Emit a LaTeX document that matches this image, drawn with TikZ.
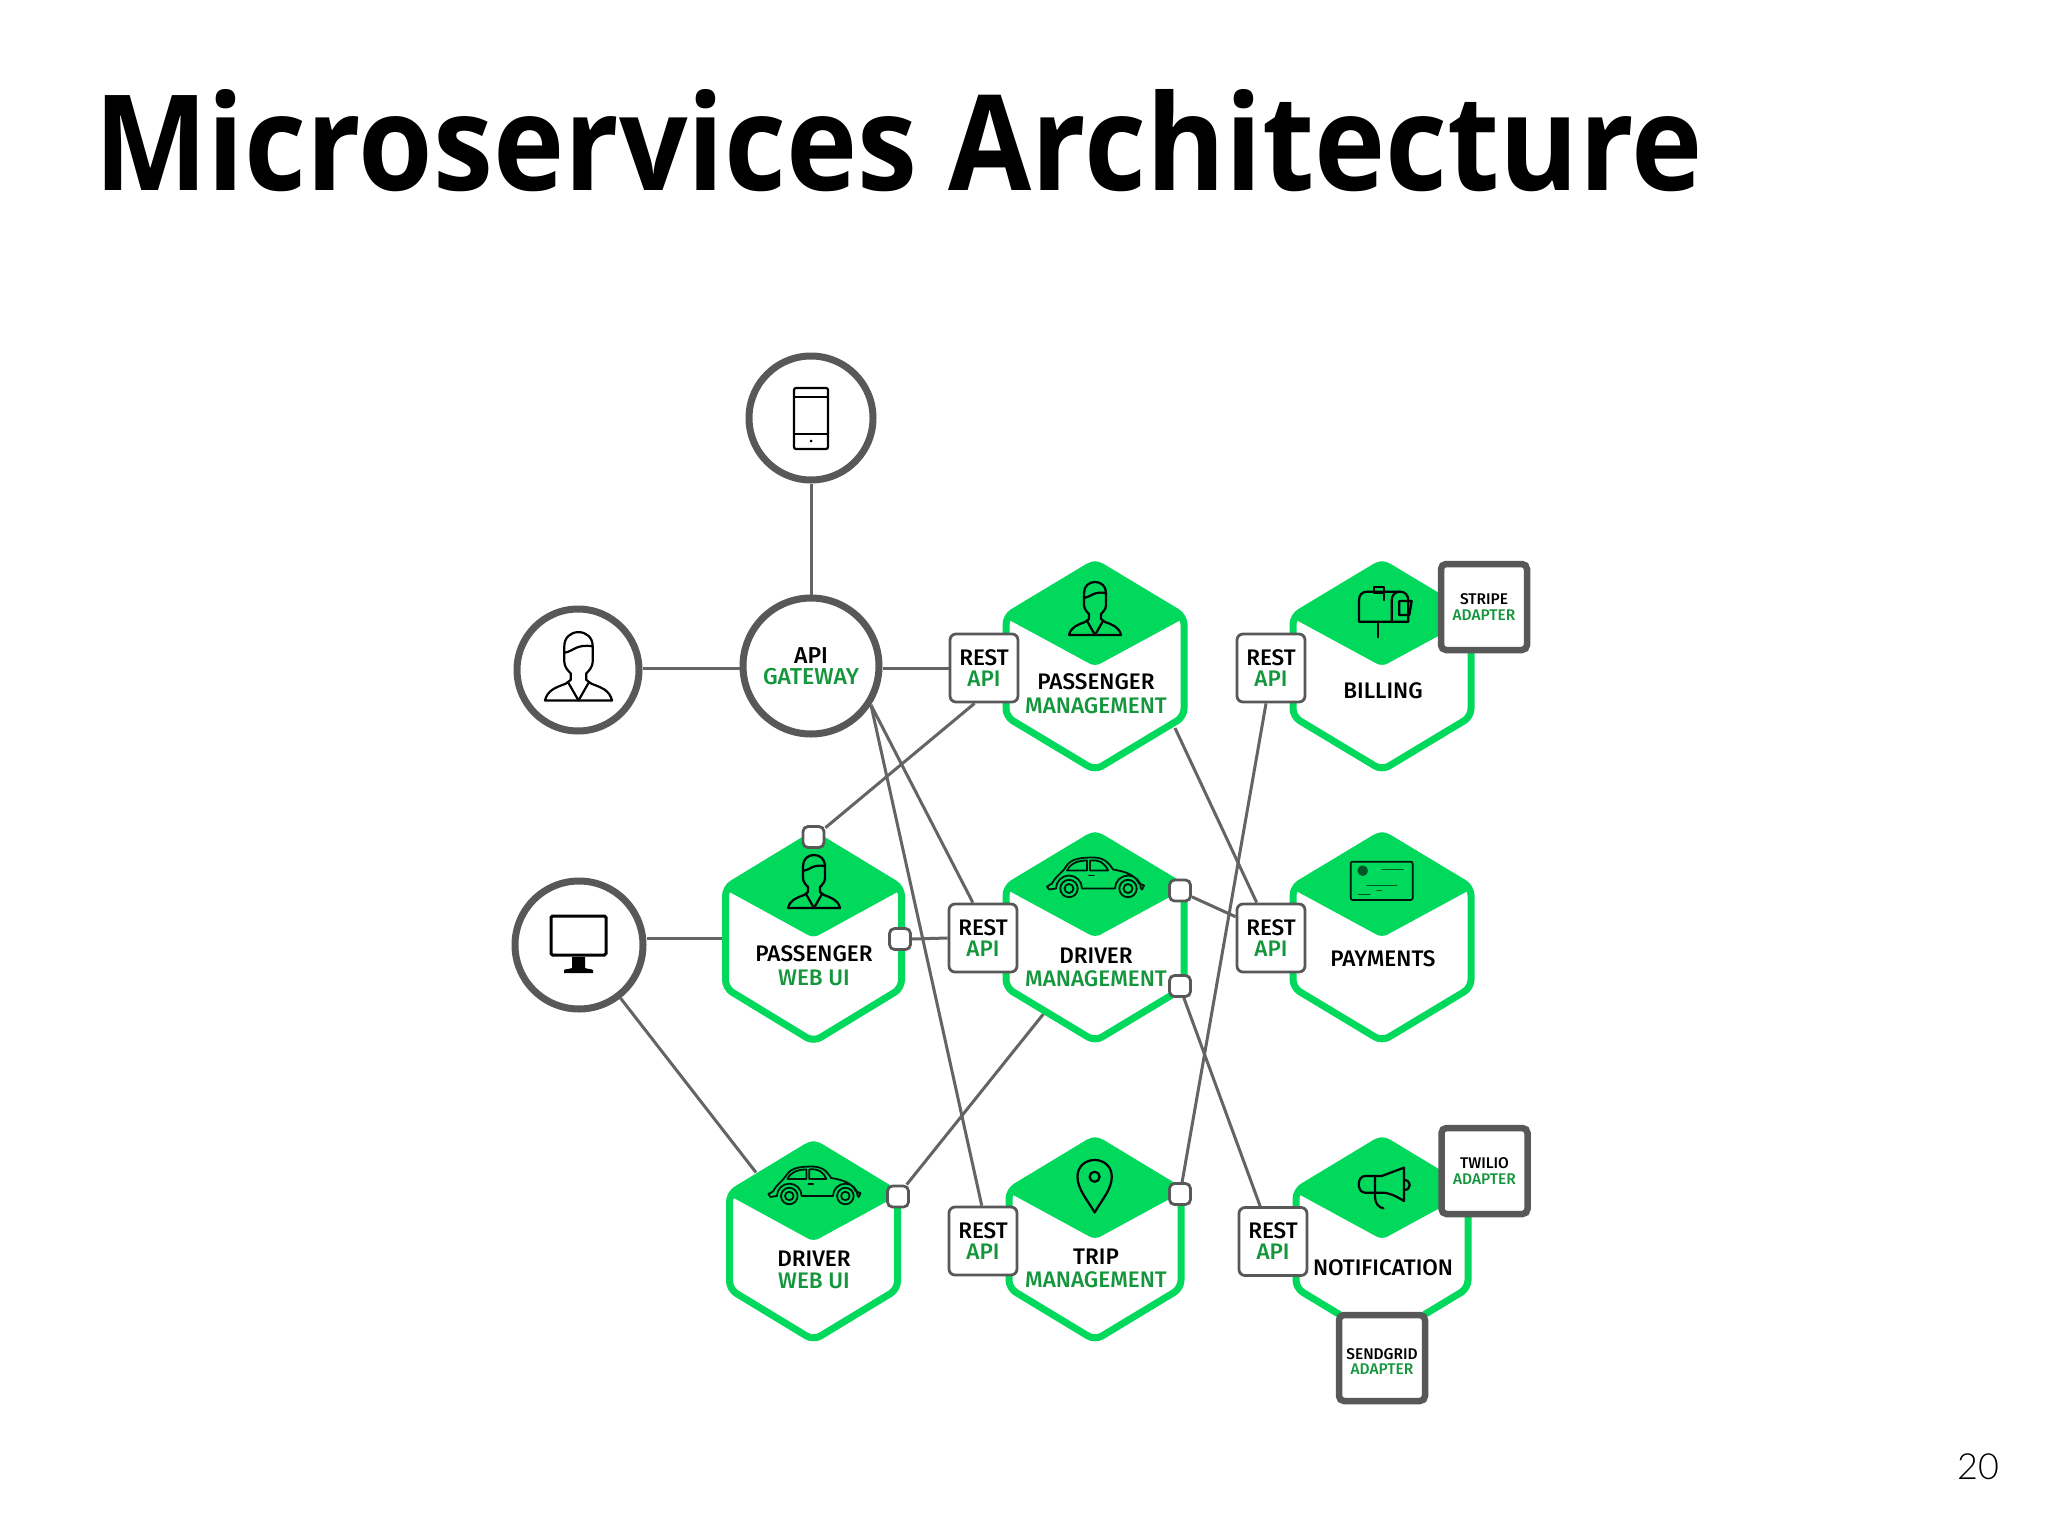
\documentclass[tikz,border=0pt]{standalone}
\usepackage{fontspec}
\usetikzlibrary{calc}
\newfontfamily\lblfont{Fira Sans Medium}
\newfontfamily\ttlfont[BoldFont={Open Sans Bold},BoldFeatures={FakeStretch=0.906}]{Open Sans}
\newfontfamily\numfont{Lato Light}
\setmainfont{Liberation Sans}
\definecolor{hexgreen}{RGB}{0,217,92}
\definecolor{txtgreen}{RGB}{20,150,60}
\definecolor{strk}{RGB}{88,88,88}
\definecolor{conn}{RGB}{100,100,100}
\pgfdeclarelayer{back}\pgfdeclarelayer{bg}
\pgfsetlayers{back,bg,main}
\tikzset{
  lbl/.style={font=\lblfont\fontsize{22.5}{22}\selectfont,inner sep=0pt,text=black},
  glbl/.style={lbl,text=txtgreen},
  ringnode/.style={circle,draw=strk,line width=7pt,fill=white,inner sep=0pt},
  gatenode/.style={ringnode,align=center,font=\lblfont\fontsize{23}{21}\selectfont},
  restnode/.style={rectangle,draw=strk,line width=2.8pt,fill=white,rounded corners=6pt,minimum width=68pt,minimum height=68pt,inner sep=0pt,align=center,font=\lblfont\fontsize{22.5}{21}\selectfont},
  adapter/.style={rectangle,draw=strk,line width=6.5pt,fill=white,rounded corners=5pt,minimum width=86pt,minimum height=86pt,inner sep=0pt,align=center,font=\lblfont\fontsize{15.5}{15.5}\selectfont},
  port/.style={rectangle,draw=strk,line width=2.8pt,fill=white,rounded corners=5pt,minimum width=21pt,minimum height=21pt,inner sep=0pt},
  hexbox/.style={rectangle,inner sep=0pt},
  hexline/.style={draw=hexgreen,fill=white,line width=7pt,rounded corners=8pt},
  iconline/.style={draw=black,line width=2.2pt,line join=round,line cap=round},
  thinicon/.style={draw=black!90!hexgreen,line width=1.8pt,line join=round,line cap=round},
  connector/.style={draw=conn,line width=3pt}
}
\newcommand{\hexa}[5]{%
  \node[hexbox,minimum width=#4*2pt,minimum height=#5*2pt] (#1) at (#2,#3) {};
  \pgfmathsetmacro\ix{#4-3.5}\pgfmathsetmacro\iy{#5-0.8}\pgfmathsetmacro\cy{0.48*#5}\pgfmathsetmacro\ty{#5+2.5}%
  \begin{scope}[shift={(#2,#3)}]
    \path[hexline] (0,-\iy) -- (\ix,-\cy) -- (\ix,\cy) -- (0,\iy) -- (-\ix,\cy) -- (-\ix,-\cy) -- cycle;
    \fill[hexgreen,rounded corners=6pt] (0,-\ty) -- (#4,-\cy) -- (0,0) -- (-#4,-\cy) -- cycle;
  \end{scope}}
\newcommand{\personicon}[3]{%
  \begin{scope}[shift={(#1,#2)},scale=#3]
    \draw[iconline] (-26,0) .. controls (-24,-8) and (-18,-10) .. (-10,-13) -- (-6,-16) -- (-6,-21) .. controls (-8,-23) and (-11,-26) .. (-11,-30) -- (-11,-42) .. controls (-11,-49) and (-6,-53) .. (0,-53) .. controls (6,-53) and (11,-49) .. (11,-42) -- (11,-30) .. controls (11,-26) and (8,-23) .. (6,-21) -- (6,-16) -- (10,-13) .. controls (18,-10) and (24,-8) .. (26,0) -- cycle;
    \draw[iconline] (-11,-37) .. controls (-4,-38) and (-2,-44) .. (11,-42);
    \draw[iconline] (-8,-14) -- (0,0) -- (8,-14);
  \end{scope}}
\newcommand{\caricon}[3]{%
  \begin{scope}[shift={(#1,#2)},scale=#3]
    \draw[thinicon] (-39,0) arc (180:360:13) -- (20,0) arc (180:360:13) -- (47,1) -- (49,-3) -- (44,-5) .. controls (40,-14) and (30,-17) .. (18,-19) .. controls (13,-27) and (8,-31) .. (-2,-31) .. controls (-14,-31) and (-24,-30) .. (-29,-22) .. controls (-33,-15) and (-40,-12) .. (-43,-5) -- (-48,-2) -- (-46,1) -- (-39,0);
    \draw[thinicon] (-26,0) circle (8.7) (-26,0) circle (4.5) (33,0) circle (8.7) (33,0) circle (4.5);
    \draw[thinicon] (-28,-18) .. controls (-24,-26) and (-16,-28) .. (-8,-28) -- (-8,-18) -- cycle;
    \draw[thinicon] (-5,-28) .. controls (5,-29) and (10,-25) .. (13,-18) -- (-5,-18) -- cycle;
    \draw[thinicon] (-6,-13) -- (-1,-13);
  \end{scope}}
\begin{document}
\begin{tikzpicture}[x=1pt,y=-1pt]
\begin{pgfonlayer}{back}
  \path[use as bounding box,fill=white] (0,0) rectangle (2048,1536);
\end{pgfonlayer}

\node[anchor=base west,inner sep=0pt,font=\ttlfont\bfseries\fontsize{133}{133}\selectfont] (title) at (94,190) {Microservices Architecture};
\node[anchor=base,inner sep=0pt,font=\numfont\fontsize{36}{36}\selectfont] (pageno) at (1978,1479) {20};

% hexagons
\hexa{pm}{1095}{666.5}{92.5}{104.5}
\hexa{bill}{1382}{666.5}{92.5}{104.5}
\hexa{pwu}{813.5}{938}{91.5}{104.5}
\hexa{dm}{1095}{937.5}{92.5}{104.5}
\hexa{pay}{1382}{937.5}{92.5}{104.5}
\hexa{dwu}{813.5}{1241.5}{87.5}{99.5}
\hexa{trip}{1095}{1239.5}{89.5}{101.5}
\hexa{notif}{1382}{1239.5}{89.5}{101.5}

% hexagon labels
\node[lbl] (pmA) at (1096,682) {PASSENGER};
\node[glbl] (pmB) at (1096,706) {MANAGEMENT};
\node[lbl] (billA) at (1383,691) {BILLING};
\node[lbl] (pwuA) at (814,954) {PASSENGER};
\node[glbl] (pwuB) at (814,977.5) {WEB UI};
\node[lbl] (dmA) at (1096,956) {DRIVER};
\node[glbl] (dmB) at (1096,979) {MANAGEMENT};
\node[lbl] (payA) at (1383,959) {PAYMENTS};
\node[lbl] (dwuA) at (814,1259) {DRIVER};
\node[glbl] (dwuB) at (814,1281) {WEB UI};
\node[lbl] (tripA) at (1096,1257) {TRIP};
\node[glbl] (tripB) at (1096,1280) {MANAGEMENT};
\node[lbl] (notifA) at (1383,1268) {NOTIFICATION};

% icons on hexagons
\personicon{1095}{635}{1}
\personicon{814}{908}{1}
\caricon{1095}{888.5}{1}
\caricon{814}{1196}{0.95}
\begin{scope}[shift={(1340,575)},scale=1/3]
  \draw[iconline] (57,140) -- (57,75) .. controls (57,58) and (68,50) .. (82,50) -- (180,50) .. controls (195,50) and (205,60) .. (205,78) -- (205,140) -- cycle;
  \draw[iconline] (155,140) -- (155,78) .. controls (155,60) and (165,50) .. (180,50);
  \draw[iconline] (178,78) -- (215,78) -- (208,120) -- (178,120) -- cycle;
  \draw[iconline] (103,35) rectangle (133,55) (133,55) -- (133,75) (115,140) -- (115,187);
\end{scope}
\begin{scope}[shift={(1340,850)},scale=1/3]
  \draw[thinicon,rounded corners=2pt] (32,35) rectangle (218,150);
  \fill[black!60!hexgreen] (68,62) circle (16);
  \draw[thinicon,line width=0.7pt,draw=black!60!hexgreen] (125,57) -- (190,57) (80,105) -- (170,105) (110,120) -- (125,120) (55,133) -- (90,133);
\end{scope}
\begin{scope}[shift={(700,800)},scale=1/2.8]
  \draw[iconline] (1105,1155) .. controls (1085,1120) and (1057,1090) .. (1057,1055) .. controls (1057,1025) and (1080,1008) .. (1105,1008) .. controls (1130,1008) and (1153,1025) .. (1153,1055) .. controls (1153,1090) and (1125,1120) .. (1105,1155) -- cycle;
  \draw[iconline] (1105,1055) circle (14);
\end{scope}
\begin{scope}[shift={(1200,1100)},scale=1/3]
  \draw[iconline] (495,228) -- (545,228) -- (612,203) -- (612,303) .. controls (590,290) and (570,278) .. (545,278) -- (495,278) .. controls (470,278) and (470,228) .. (495,228) -- cycle;
  \draw[iconline] (612,240) .. controls (635,240) and (635,270) .. (612,270);
  \draw[iconline] (525,228) -- (525,290) .. controls (525,310) and (535,322) .. (550,325);
\end{scope}

% ports
\node[port] (ptop) at (813.5,837) {};
\node[port] (pside) at (900,939) {};
\node[port] (dmup) at (1180,890.5) {};
\node[port] (dmlow) at (1180,986) {};
\node[port] (dwup) at (898,1196.5) {};
\node[port] (tripp) at (1180,1194) {};

% REST API boxes
\node[restnode] (r1) at (984,668) {REST\\\textcolor{txtgreen}{API}};
\node[restnode] (rbill) at (1271,668) {REST\\\textcolor{txtgreen}{API}};
\node[restnode] (r2) at (983,938) {REST\\\textcolor{txtgreen}{API}};
\node[restnode] (rpay) at (1271,938) {REST\\\textcolor{txtgreen}{API}};
\node[restnode] (r3) at (983,1241) {REST\\\textcolor{txtgreen}{API}};
\node[restnode] (r4) at (1273,1241.5) {REST\\\textcolor{txtgreen}{API}};

% adapters
\node[adapter] (stripe) at (1484,607) {STRIPE\\\textcolor{txtgreen}{ADAPTER}};
\node[adapter] (twilio) at (1484.5,1171) {TWILIO\\\textcolor{txtgreen}{ADAPTER}};
\node[adapter] (sendgrid) at (1382,1358) {\rule{0pt}{18pt}SENDGRID\\\textcolor{txtgreen}{ADAPTER}};

% round nodes
\node[ringnode,minimum size=124pt] (phone) at (811,418) {};
\node[ringnode,minimum size=122pt] (user) at (578,670) {};
\node[ringnode,minimum size=128pt] (mon) at (579,945) {};
\node[gatenode,minimum size=136pt] (gw) at (811,666) {API\\\textcolor{txtgreen}{GATEWAY}};

% icons in round nodes
\draw[iconline,rounded corners=2pt] (794,388) rectangle (828,449);
\draw[iconline] (794,397) -- (828,397) (794,434) -- (828,434);
\fill (811,441) circle (1.5);
\personicon{578.5}{700.5}{1.29}
\draw[draw=black,line width=3pt,rounded corners=1.5pt] (551,916) rectangle (606,955);
\fill[black] (572,957) -- (585,957) -- (585,968) .. controls (587,969) and (592,969) .. (593,970) -- (593,973) -- (564,973) -- (564,970) .. controls (565,969) and (570,969) .. (572,968) -- cycle;

% connectors
\begin{pgfonlayer}{bg}
  \draw[connector] (phone.south) -- (gw.north);
  \draw[connector] (user.east |- r1) -- (gw.west |- r1);
  \draw[connector] (gw.east |- r1) -- (r1.west);
  \draw[connector] (gw.-33.5) -- (r2.106);
  \draw[connector] (gw.-33.5) -- (r3.92);
  \draw[connector] (r1.255.6) -- (ptop.38);
  \draw[connector] (pside.east) -- (r2.west);
  \draw[connector] (mon.east |- pwu) -- (pwu.west);
  \draw[connector] (mon.-52) -- ($(dwu)+(-57.5,-69)$);
  \draw[connector] (dwup.54) -- ($(dm)+(-51.6,76.5)$);
  \draw[connector] ($(pm)+(80,61.5)$) -- (rpay.112);
  \draw[connector] (dmup.-28) -- (rpay.149);
  \draw[connector] (rbill.-98) -- (tripp.80);
  \draw[connector] (dmlow.-72) -- (r4.110);
\end{pgfonlayer}
\end{tikzpicture}
\end{document}
